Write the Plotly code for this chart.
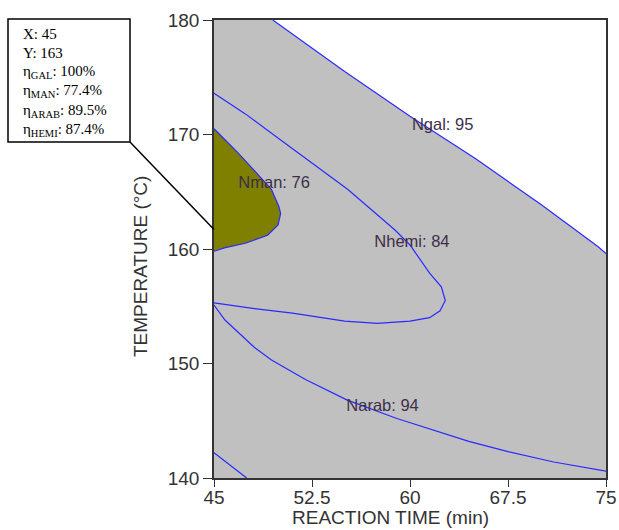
import plotly.graph_objects as go

# ---- data ----
gal_time = [49.5, 55.0, 60.0, 65.0, 70.0, 74.4, 75.0]
gal_temp = [180.0, 175.5, 171.6, 167.9, 163.9, 160.2, 159.6]

man_time = [45.0, 46.84, 48.37, 49.4, 49.97, 50.1, 49.9, 49.1, 47.4, 45.8, 45.0]
man_temp = [170.5, 168.4, 166.5, 165.2, 163.7, 163.1, 162.1, 161.2, 160.5, 160.1, 159.8]

hemi_time = [45.0, 47.4, 50.0, 55.25, 58.85, 60.0, 61.5, 62.4, 62.7, 62.3, 61.5, 60.0,
             57.5, 55.0, 51.0, 48.1, 45.0]
hemi_temp = [173.6, 171.8, 169.6, 165.2, 161.66, 160.35, 157.9, 156.7, 155.5, 154.6, 154.0, 153.7,
             153.5, 153.7, 154.4, 154.8, 155.3]

arab_time = [45.0, 45.84, 48.1, 49.4, 52.0, 55.2, 59.0, 62.0, 64.5, 67.5, 71.0, 75.0]
arab_temp = [155.1, 153.8, 151.4, 150.3, 148.6, 146.8, 145.2, 144.1, 143.2, 142.3, 141.4, 140.6]

low_time = [45.0, 47.5]
low_temp = [142.2, 140.0]

label_text = ["Ngal: 95", "Nman: 76", "Nhemi: 84", "Narab: 94"]
label_time = [62.5, 49.6, 60.15, 57.9]
label_temp = [170.75, 165.65, 160.55, 146.25]

x_ticks = [45, 52.5, 60, 67.5, 75]
x_ticktext = ["45", "52.5", "60", "67.5", "75"]
y_ticks = [140, 150, 160, 170, 180]
x_title = "REACTION TIME (min)"
y_title = "TEMPERATURE (°C)"

point_time = 45
point_temp = 161.7
SUB = '<sub style="font-size:12px">{}</sub>'
info_lines = ["X: 45", "Y: 163",
              "η" + SUB.format("GAL") + ": 100%", "η" + SUB.format("MAN") + ": 77.4%",
              "η" + SUB.format("ARAB") + ": 89.5%", "η" + SUB.format("HEMI") + ": 87.4%"]

X_MIN, X_MAX, Y_MIN, Y_MAX = 45, 75, 140, 180

GRAY = "#c0c0c0"
OLIVE = "#808000"
BLUE = "#2a2aff"
AXIS_FONT = dict(family="Liberation Sans, Arial", size=19, color="#333333")

# plot-area geometry in pixels (figure 619x530)
L, R, T, B = 214, 606, 20, 478
PW, PH = R - L, B - T


def px_to_paper_x(px):
    return (px - L) / PW


def py_to_paper_y(py):
    return (B - py) / PH


fig = go.Figure()

# gray region below the gal contour
fig.add_trace(go.Scatter(
    x=[X_MIN, X_MIN] + gal_time + [X_MAX],
    y=[Y_MIN, Y_MAX] + gal_temp + [Y_MIN],
    fill="toself", fillcolor=GRAY, mode="none", hoverinfo="skip", showlegend=False))

# olive region
fig.add_trace(go.Scatter(
    x=man_time, y=man_temp, fill="toself", fillcolor=OLIVE,
    mode="none", hoverinfo="skip", showlegend=False))

for xs, ys in [(gal_time, gal_temp), (man_time, man_temp), (hemi_time, hemi_temp),
               (arab_time, arab_temp), (low_time, low_temp)]:
    fig.add_trace(go.Scatter(x=xs, y=ys, mode="lines",
                             line=dict(color=BLUE, width=1.2),
                             hoverinfo="skip", showlegend=False))

fig.add_trace(go.Scatter(
    x=label_time, y=label_temp, text=label_text, mode="text",
    textfont=dict(family="Liberation Sans, Arial", size=16.5, color="#3d2f48"),
    hoverinfo="skip", showlegend=False))

end_x = (point_time - X_MIN) / (X_MAX - X_MIN)
end_y = (point_temp - Y_MIN) / (Y_MAX - Y_MIN)

shapes = [
    # info box
    dict(type="rect", xref="paper", yref="paper",
         x0=px_to_paper_x(8), x1=px_to_paper_x(130),
         y0=py_to_paper_y(142), y1=py_to_paper_y(19),
         line=dict(color="black", width=1.5), fillcolor="white", layer="above"),
    # leader line
    dict(type="line", xref="paper", yref="paper",
         x0=px_to_paper_x(130), y0=py_to_paper_y(142), x1=end_x, y1=end_y,
         line=dict(color="black", width=1.5), layer="above"),
]

annotations = []
line_py = [34, 53, 72, 91, 111, 130]
for txt, py in zip(info_lines, line_py):
    annotations.append(dict(
        xref="paper", yref="paper", x=px_to_paper_x(21), y=py_to_paper_y(py),
        xanchor="left", yanchor="middle", showarrow=False, text=txt,
        font=dict(family="Liberation Serif, Times New Roman", size=15, color="black")))

# axis titles (positioned as in the reference)
annotations.append(dict(xref="paper", yref="paper", x=px_to_paper_x(390), y=py_to_paper_y(517.5),
                        xanchor="center", yanchor="middle", showarrow=False,
                        text=x_title, font=AXIS_FONT))
annotations.append(dict(xref="paper", yref="paper", x=px_to_paper_x(140), y=py_to_paper_y(267),
                        xanchor="center", yanchor="middle", showarrow=False, textangle=-90,
                        text=y_title, font=AXIS_FONT))

axis_common = dict(showline=True, linecolor="#333333", linewidth=1.5, mirror=True,
                   ticks="outside", tickcolor="#333333", showgrid=False,
                   zeroline=False, tickfont=AXIS_FONT)

fig.update_layout(
    width=619, height=530,
    margin=dict(l=L, r=619 - R, t=T, b=530 - B, autoexpand=False),
    paper_bgcolor="white", plot_bgcolor="white",
    xaxis=dict(range=[X_MIN, X_MAX], tickvals=x_ticks, ticktext=x_ticktext, ticklen=7,
               ticklabelstandoff=-6, **axis_common),
    yaxis=dict(range=[Y_MIN, Y_MAX], tickvals=y_ticks, ticklen=9, **axis_common),
    shapes=shapes,
    annotations=annotations,
)

fig.write_html("out.html", config={"displayModeBar": False},
               post_script="document.body.style.margin='0px';document.body.style.overflow='hidden';")
